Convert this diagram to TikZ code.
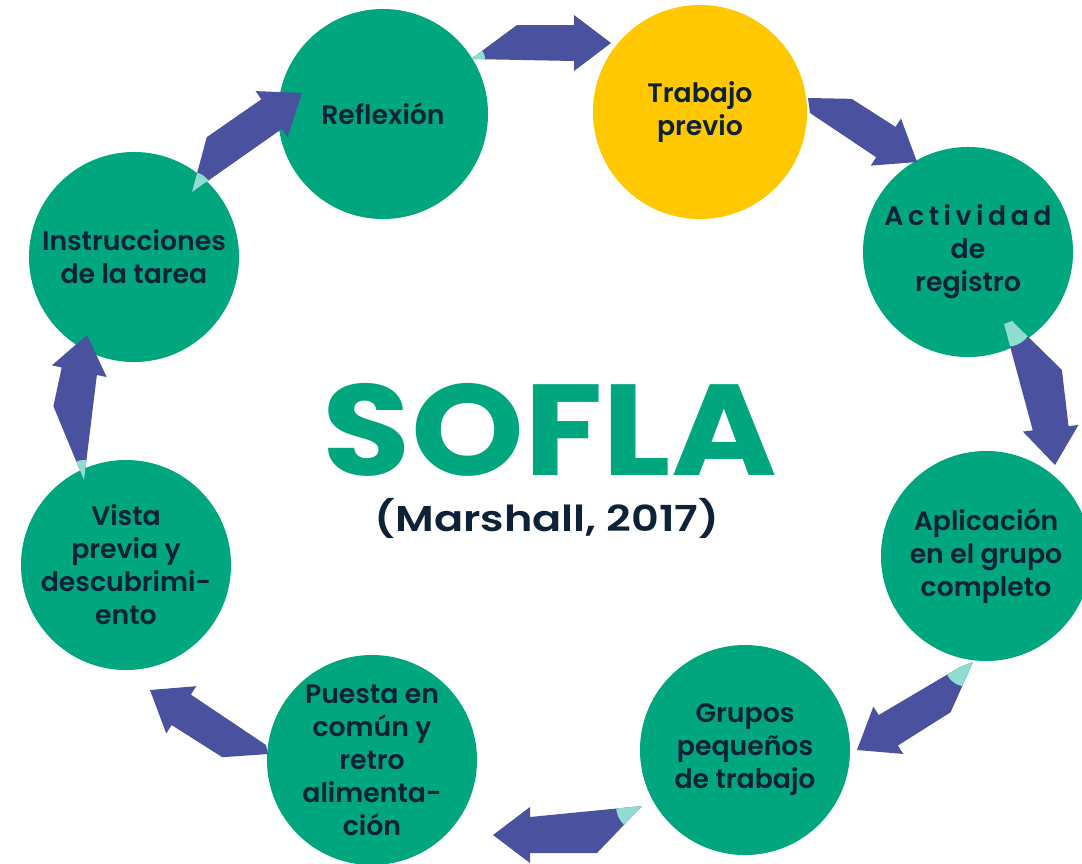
\documentclass[tikz,border=0pt]{standalone}
\usepackage{fontspec}
\setmainfont{Poppins}
\newfontfamily\semibold{Poppins SemiBold}
\newfontfamily\citesemibold{Poppins SemiBold}[FakeStretch=1.2]
\newfontfamily\titlebold{Poppins Bold}[FakeStretch=1.11]
\usepackage{tikz}
\usetikzlibrary{calc}

\definecolor{sfGreen}{HTML}{00A67E}
\definecolor{sfYellow}{HTML}{FFC800}
\definecolor{sfBlue}{HTML}{4A519E}
\definecolor{sfTail}{HTML}{8EDDD0}
\definecolor{sfNavy}{HTML}{0D2137}

\newcommand\stagefont{\semibold\fontsize{19}{23.5}\selectfont}
\newcommand\titlefont{\titlebold\fontsize{92}{92}\selectfont}
\newcommand\citefont{\citesemibold\fontsize{25.5}{30}\selectfont}

% block arrow: [tail tint radius]{outer tail}{inner tail}{bend}{tip}
\newcommand\shaftw{0.45cm}
\newcommand\headw{0.7cm}
\newcommand\headl{0.925cm}
\newcommand\ringarrow[5][0.5cm]{%
  \coordinate (nk) at ($(#5)!\headl!(#4)$);
  \path[fill=sfBlue, save path=\ringshape] (#3) -- (#2)
    -- ($(#4)!\shaftw!90:(#5)$) -- ($(nk)!\shaftw!90:(#5)$)
    -- ($(nk)!\headw!90:(#5)$) -- (#5) -- ($(nk)!\headw!-90:(#5)$)
    -- ($(nk)!\shaftw!-90:(#5)$) -- cycle;
  \begin{scope}
    \clip ($(#2)!0.5!(#3)$) circle[radius=#1];
    \fill[sfTail, use path=\ringshape];
  \end{scope}}

\begin{document}
\begin{tikzpicture}[x=0.025cm, y=-0.025cm,
        stage/.style={circle, fill=sfGreen, minimum size=5.25cm, inner sep=0pt, align=center, text=sfNavy, font=\stagefont},
        firststage/.style={stage, fill=sfYellow, minimum size=5.35cm},
    ]
    \useasboundingbox[fill=white] (0,0) rectangle (1082,863);

    % Stages
    \node[stage]      (refl)   at (383,114) {Reflexión};
    \node[firststage] (trab)   at (700,112) {Trabajo\\previo};
    \node[stage]      (activ)  at (968,252) {{\addfontfeatures{LetterSpace=17}Actividad}\\de\\registro};
    \node[stage]      (aplic)  at (986,556) {Aplicación\\en el grupo\\completo};
    \node[stage]      (grupos) at (745,750) {Grupos\\pequeños\\de trabajo};
    \node[stage]      (puesta) at (372,760) {Puesta en\\común y\\retro\\alimenta-\\ción};
    \node[stage]      (vista)  at (126,565) {Vista\\previa y\\descubrimi-\\ento};
    \node[stage]      (instr)  at (134,257) {Instrucciones\\de la tarea};

    % Title
    \node[font=\titlefont, text=sfGreen, inner sep=0pt] (title) at (550,430) {SOFLA};
    \node[font=\citefont, text=sfNavy, inner sep=0pt]   (cite)  at (547,518) {(Marshall, 2017)};

    % Arrow ends
    \coordinate (a1t) at (471,59);   \coordinate (a1b) at (517,43);   \coordinate (a1h) at (611,43);
    \coordinate (a2o) at (808,98);   \coordinate (a2i) at (810,113);  \coordinate (a2b) at (842,114);  \coordinate (a2h) at (917,162);
    \coordinate (a3o) at (1012,321); \coordinate (a3i) at (1004,324); \coordinate (a3b) at (1044,372); \coordinate (a3h) at (1055,465);
    \coordinate (a4o) at (973,662);  \coordinate (a4i) at (960,667);  \coordinate (a4b) at (941,697);  \coordinate (a4h) at (857,750);
    \coordinate (a5t) at (642,806);  \coordinate (a5b) at (597,835);  \coordinate (a5h) at (493,835);
    \coordinate (a6o) at (268,754);  \coordinate (a6i) at (266,745);  \coordinate (a6b) at (232,742);  \coordinate (a6h) at (150,690);
    \coordinate (a7t) at (84,480);   \coordinate (a7b) at (71,410);   \coordinate (a7h) at (87,335);
    \coordinate (a8t) at (192,192);  \coordinate (a8b) at (217,152);  \coordinate (a8h) at (302,93);

    % Arrows around the cycle
    \ringarrow[0.35cm]{a1t}{a1t}{a1b}{a1h}
    \ringarrow[0.01pt]{a2o}{a2i}{a2b}{a2h}
    \ringarrow[0.6cm]{a3o}{a3i}{a3b}{a3h}
    \ringarrow[0.55cm]{a4o}{a4i}{a4b}{a4h}
    \ringarrow[0.65cm]{a5t}{a5t}{a5b}{a5h}
    \ringarrow[0.01pt]{a6o}{a6i}{a6b}{a6h}
    \ringarrow{a7t}{a7t}{a7b}{a7h}
    \ringarrow{a8t}{a8t}{a8b}{a8h}

\end{tikzpicture}
\end{document}
